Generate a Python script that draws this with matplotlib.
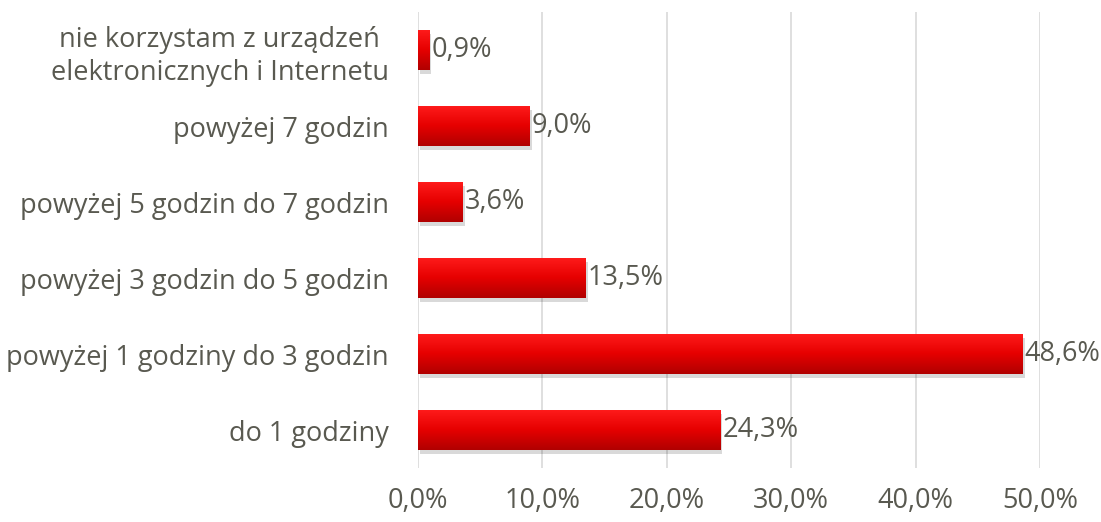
import matplotlib
matplotlib.use("Agg")
import matplotlib.pyplot as plt
import numpy as np
from matplotlib.colors import LinearSegmentedColormap
import matplotlib.patheffects as pe

categories = ["do 1 godziny",
              "powyżej 1 godziny do 3 godzin",
              "powyżej 3 godzin do 5 godzin",
              "powyżej 5 godzin do 7 godzin",
              "powyżej 7 godzin",
              "nie korzystam z urządzeń\nelektronicznych i Internetu"]
values = [24.3, 48.6, 13.5, 3.6, 9.0, 0.9]
value_labels = ["24,3%", "48,6%", "13,5%", "3,6%", "9,0%", "0,9%"]
xticks = [0, 10, 20, 30, 40, 50]
xtick_labels = ["0,0%", "10,0%", "20,0%", "30,0%", "40,0%", "50,0%"]

plt.rcParams['font.family'] = ['Open Sans', 'DejaVu Sans']
txt_color = "#595950"
fs = 19.5

fig = plt.figure(figsize=(11.01, 5.22), dpi=100)
ax = fig.add_axes([418/1101, 1-468/522, (1040-418)/1101, (468-12)/522])

y = np.arange(len(categories))
bars = ax.barh(y, values, height=0.53, color="#e00000", zorder=3,
               path_effects=[pe.SimplePatchShadow(offset=(1.5, -3), shadow_rgbFace="#000000", alpha=0.15),
                             pe.Normal()])

cmap = LinearSegmentedColormap.from_list("rg", ["#ff1c1c", "#e60000", "#b00000"])
grad = np.linspace(0, 1, 256).reshape(-1, 1)
for b in bars:
    x0, y0 = b.get_x(), b.get_y()
    w, h = b.get_width(), b.get_height()
    im = ax.imshow(grad, cmap=cmap, aspect="auto", extent=[x0, x0 + w, y0, y0 + h],
                   zorder=4, origin="upper")
    im.set_clip_path(b)

ax.set_xlim(0, 50)
ax.set_ylim(-0.5, 5.5)
ax.set_xticks(xticks)
ax.set_xticklabels(xtick_labels)
ax.set_yticks(y)
ax.set_yticklabels(categories, linespacing=1.25)
ax.tick_params(length=0, labelsize=fs, colors=txt_color)
ax.tick_params(axis="y", pad=21)
ax.tick_params(axis="x", pad=14)
for t in ax.get_yticklabels():
    t.set_horizontalalignment("right")
    t.set_multialignment("center")
for s in ax.spines.values():
    s.set_visible(False)
ax.grid(axis="x", color="#d9d9d9", linewidth=1.2, zorder=0)
ax.set_axisbelow(True)

for b, lab in zip(bars, value_labels):
    ax.annotate(lab, (b.get_width(), b.get_y() + b.get_height()/2), xytext=(1.5, 0),
                textcoords="offset points", va="center", ha="left", fontsize=fs,
                color=txt_color, annotation_clip=False, zorder=6)

fig.savefig("out.png", dpi=100)
